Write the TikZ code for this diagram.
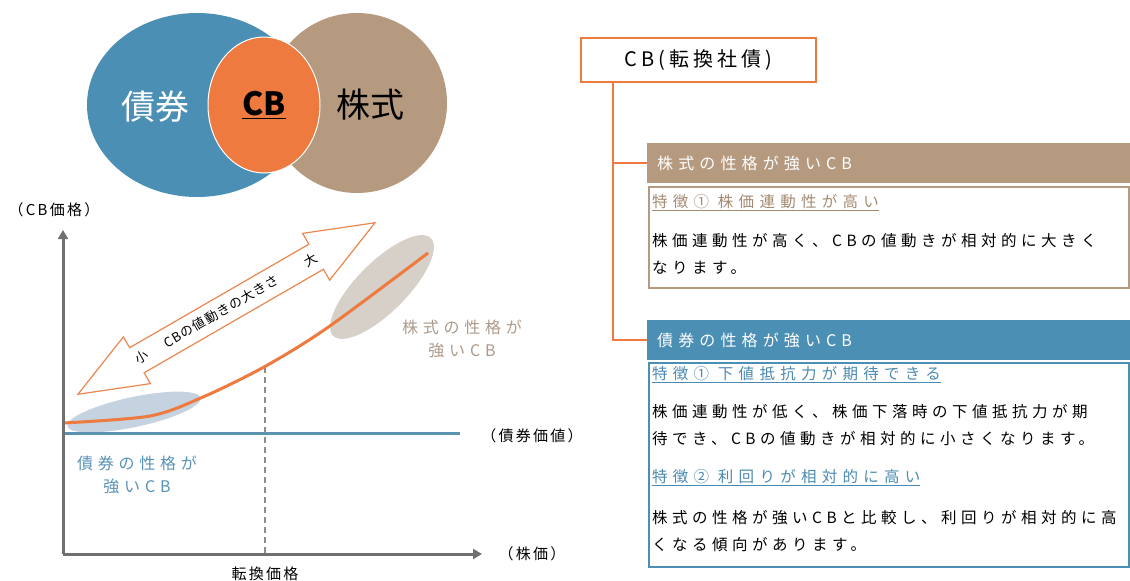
\documentclass[tikz,border=0pt]{standalone}
\usepackage{fontspec}
\setmainfont{Noto Sans CJK JP}
\usepackage{tikz}
\usetikzlibrary{arrows.meta, shapes.geometric}
\definecolor{bondblue}{RGB}{75,143,180}
\definecolor{stockbrown}{RGB}{181,154,128}
\definecolor{cborange}{RGB}{239,122,64}
\definecolor{arroworange}{RGB}{233,135,80}
\definecolor{axisgray}{RGB}{112,112,112}
\definecolor{bondline}{RGB}{91,146,178}
\definecolor{bondfill}{RGB}{197,211,224}
\definecolor{stockfill}{RGB}{214,208,200}
\definecolor{stocktext}{RGB}{173,154,138}
\definecolor{bondtext}{RGB}{88,146,182}
\definecolor{stocklink}{RGB}{163,138,114}
\definecolor{bondlink}{RGB}{74,138,176}
\newcommand{\tracked}[1]{\addfontfeature{LetterSpace=#1}}

\begin{document}
\begin{tikzpicture}[x=1pt, y=-1pt,
    vennlabel/.style={font=\fontsize{34}{34}\selectfont, inner sep=0},
    axis/.style={line width=3pt, draw=axisgray, -{Triangle[width=10pt,length=9pt]}},
    chartlabel/.style={font=\fontsize{15}{15}\selectfont\tracked{15}, inner sep=0},
    notelabel/.style={align=center, inner sep=0, font=\fontsize{16}{23}\selectfont\tracked{30}},
    arrowtext/.style={inner sep=0, font=\fontsize{13}{13}\selectfont\tracked{8}},
    rootbox/.style={draw=cborange, line width=1.5pt, minimum width=235, minimum height=44, font=\fontsize{20}{20}\selectfont\tracked{20}},
    branch/.style={draw=cborange, line width=1.5pt},
    header/.style={anchor=north west, text=white, text width=463, inner xsep=10, minimum height=40, align=left, font=\fontsize{16}{16}\selectfont\tracked{32}},
    infobox/.style={anchor=north west, draw, line width=1.5pt, minimum width=480, inner sep=0},
    linktext/.style={anchor=west, inner sep=0, font=\fontsize{15.5}{15.5}\selectfont\tracked{34}},
    bodytext/.style={anchor=west, inner sep=0, align=left, font=\fontsize{15.5}{27}\selectfont\tracked{29}}
]
    \useasboundingbox (0,0) rectangle (1130,581);

    % Venn of bond and stock
    \fill[stockbrown] (357,103) ellipse [x radius=90, y radius=90];
    \fill[bondblue] (197,105) ellipse [x radius=110, y radius=92];
    \node[ellipse, draw=white, line width=1pt, fill=cborange, minimum width=112, minimum height=136, inner sep=0,
        font=\fontsize{32}{32}\selectfont\bfseries] (cb) at (264,105) {\underline{CB}};
    \node[vennlabel, text=white] (bond) at (155,107) {債券};
    \node[vennlabel] (stock) at (370,105) {株式};

    % Price chart
    \coordinate (O) at (63,554);
    \fill[bondfill, rotate around={12:(134,412)}] (134,412) ellipse [x radius=68, y radius=15];
    \fill[stockfill, rotate around={45:(382,287)}] (382,287) ellipse [x radius=69, y radius=25];
    \draw[bondline, line width=3pt] (63,433) -- (460,433);
    \draw[axisgray!80, line width=1.5pt, dash pattern=on 6pt off 4pt] (265,367) -- (265,554);
    \draw[cborange, line width=3pt] plot[smooth] coordinates {(63,423) (150,416) (203,397) (264,367) (327,328) (428,253)};
    \draw[axis] (O) -- (63,230);
    \draw[axis] (O) -- (482,554);

    \node[chartlabel] (ylab) at (54,210) {（CB価格）};
    \node[chartlabel] (xlab) at (532,554) {（株価）};
    \node[chartlabel] (bondval) at (532,436) {（債券価値）};
    \node[chartlabel] (conv) at (265,574) {転換価格};
    \node[notelabel, text=stocktext] (stocknote) at (462,339) {株式の性格が\\強いCB};
    \node[notelabel, text=bondtext] (bondnote) at (137,475) {債券の性格が\\強いCB};

    % Double arrow: size of CB price moves
    \begin{scope}[shift={(226.5,308.5)}, rotate=30, transform shape]
        \draw[arroworange, fill=white, line width=1.2pt] (-171.5,0) -- (-103.5,27) -- (-103.5,14.5) -- (103.5,14.5)
            -- (103.5,27) -- (171.5,0) -- (103.5,-27) -- (103.5,-14.5) -- (-103.5,-14.5) -- (-103.5,-27) -- cycle;
        \node[arrowtext] (small) at (-98,0) {小};
        \node[arrowtext] (size) at (-6,0) {CBの値動きの大きさ};
        \node[arrowtext] (large) at (97,0) {大};
    \end{scope}

    % Tree of CB types
    \node[rootbox] (root) at (698.5,60) {CB(転換社債)};
    \node[header, fill=stockbrown] (hstock) at (647,143) {株式の性格が強いCB};
    \node[infobox, draw=stockbrown, minimum height=101] (bstock) at (648,186) {};
    \node[linktext, text=stocklink] (lstock) at (652,203) {\underline{特徴① 株価連動性が高い}};
    \node[bodytext] (tstock) at (652,254) {株価連動性が高く、CBの値動きが相対的に大きく\\なります。};

    \node[header, fill=bondblue] (hbond) at (647,320) {債券の性格が強いCB};
    \node[infobox, draw=bondblue, minimum height=204] (bbond) at (648,362) {};
    \node[linktext, text=bondlink] (lbond1) at (652,375) {\underline{特徴① 下値抵抗力が期待できる}};
    \node[bodytext] (tbond1) at (652,425) {株価連動性が低く、株価下落時の下値抵抗力が期\\待でき、CBの値動きが相対的に小さくなります。};
    \node[linktext, text=bondlink] (lbond2) at (652,478) {\underline{特徴② 利回りが相対的に高い}};
    \node[bodytext] (tbond2) at (652,531) {株式の性格が強いCBと比較し、利回りが相対的に高\\くなる傾向があります。};

    \draw[branch] ([xshift=-85.5]root.south) |- (hstock.west);
    \draw[branch] ([xshift=-85.5]root.south) |- (hbond.west);
\end{tikzpicture}
\end{document}
